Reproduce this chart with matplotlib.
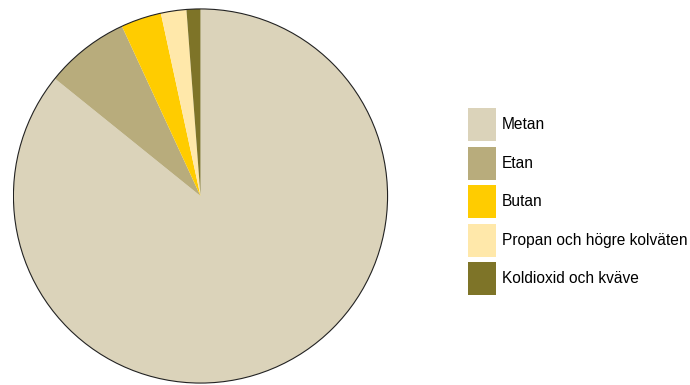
import matplotlib
matplotlib.use("Agg")
import matplotlib.pyplot as plt
from matplotlib.patches import Patch, Circle

# Andelar (%) i naturgas
labels = ['Metan', 'Etan', 'Butan', 'Propan och högre kolväten', 'Koldioxid och kväve']
values = [85.8, 7.3, 3.5, 2.2, 1.2]
colors = ['#DBD3BA', '#B8AC7C', '#FFCC00', '#FFE8AA', '#7E7428']

plt.rcParams['font.family'] = ['Liberation Sans', 'DejaVu Sans']

fig = plt.figure(figsize=(6.9, 3.85), dpi=100)
ax = fig.add_axes([12.5 / 690, 1 / 385, 376 / 690, 376 / 385])

ax.pie(values, colors=colors, startangle=90, counterclock=False,
       radius=1, wedgeprops=dict(linewidth=0))
ax.add_patch(Circle((0, 0), 1, fill=False, edgecolor='#222222', linewidth=0.8))
ax.set_xlim(-1.005, 1.005)
ax.set_ylim(-1.005, 1.005)
ax.set_aspect('equal')
ax.axis('off')

fs = 11.2
px = fs * 100 / 72
# legend box height = fs*hh - 0.35*fs*(hh - 0.7)
hh = (33 / px - 0.245) / 0.65
handles = [Patch(facecolor=c, edgecolor='none') for c in colors]
fig.legend(handles, labels, loc='upper left',
           bbox_to_anchor=(468 / 690, 1 - 108 / 385),
           frameon=False, fontsize=fs, borderpad=0, borderaxespad=0,
           handlelength=28 / px, handleheight=hh,
           labelspacing=5.6 / px, handletextpad=6 / px)

fig.savefig('out.png', dpi=100)
